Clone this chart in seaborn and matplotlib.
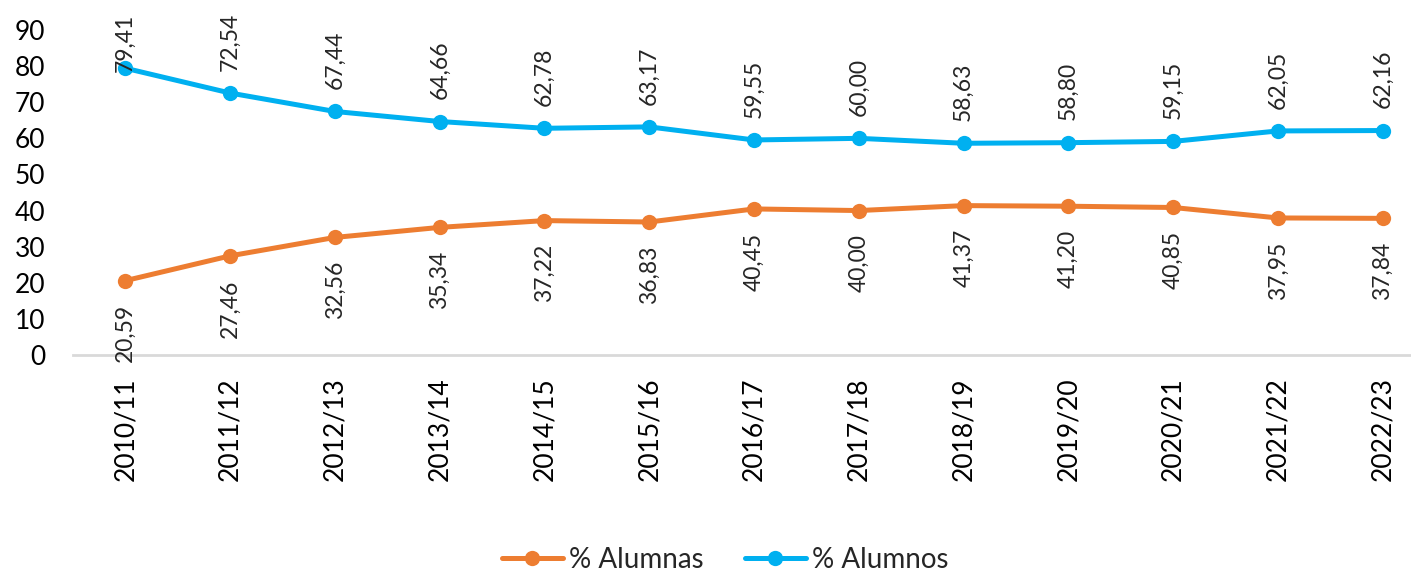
import matplotlib
matplotlib.use("Agg")
import matplotlib.pyplot as plt
import pandas as pd
import seaborn as sns
from matplotlib.lines import Line2D

cursos = ["2010/11", "2011/12", "2012/13", "2013/14", "2014/15", "2015/16", "2016/17",
          "2017/18", "2018/19", "2019/20", "2020/21", "2021/22", "2022/23"]
alumnas = [20.59, 27.46, 32.56, 35.34, 37.22, 36.83, 40.45, 40.00, 41.37, 41.20, 40.85, 37.95, 37.84]
alumnos = [79.41, 72.54, 67.44, 64.66, 62.78, 63.17, 59.55, 60.00, 58.63, 58.80, 59.15, 62.05, 62.16]

series = ["% Alumnas", "% Alumnos"]
colores = {"% Alumnas": "#ED7D31", "% Alumnos": "#00B0F0"}

df = pd.DataFrame({
    "curso": cursos * 2,
    "valor": alumnas + alumnos,
    "serie": [series[0]] * len(cursos) + [series[1]] * len(cursos),
})

sns.set_theme(style="white")
plt.rcParams["font.family"] = ["Lato", "DejaVu Sans"]

fig = plt.figure(figsize=(14.11, 5.74), dpi=100)
ax = fig.add_axes([73 / 1411, 1 - 355 / 574, 1 - 73 / 1411, 325 / 574])

sns.lineplot(data=df, x="curso", y="valor", hue="serie", hue_order=series,
             palette=colores, marker="o", markersize=11, markeredgewidth=0,
             linewidth=3.6, legend=False, ax=ax)

ax.set_xlim(-0.5, 12.27)
ax.set_ylim(0, 90)
ax.set_yticks(range(0, 91, 10))
ax.set_xlabel("")
ax.set_ylabel("")

for s in ["top", "right", "left"]:
    ax.spines[s].set_visible(False)
ax.spines["bottom"].set_color("#D9D9D9")
ax.spines["bottom"].set_linewidth(2)
ax.spines["bottom"].set_clip_on(False)

ax.tick_params(axis="y", length=0, pad=20, labelsize=19, labelcolor="black")
ax.tick_params(axis="x", length=0, pad=16, labelsize=19, labelcolor="black")
plt.setp(ax.get_xticklabels(), rotation=90, va="top", ha="center")

# etiquetas de datos
for i, v in enumerate(alumnos):
    dy = -3 if i == 0 else 16
    ax.annotate(f"{v:.2f}".replace(".", ","), (i, v), xytext=(0, dy),
                textcoords="offset points", rotation=90, ha="center", va="bottom",
                fontsize=16.5, annotation_clip=False)
for i, v in enumerate(alumnas):
    ax.annotate(f"{v:.2f}".replace(".", ","), (i, v), xytext=(0, -17),
                textcoords="offset points", rotation=90, ha="center", va="top",
                fontsize=16.5, annotation_clip=False)

handles = [Line2D([0], [0], color=colores[s], lw=3.6, marker="o", markersize=11,
                  markeredgewidth=0) for s in series]
fig.legend(handles, series, loc="center", bbox_to_anchor=(725 / 1411, 1 - 560 / 574),
           ncol=2, frameon=False, fontsize=20, handlelength=2.2, handletextpad=0.2,
           columnspacing=1.5)

fig.savefig("out.png", dpi=100)
